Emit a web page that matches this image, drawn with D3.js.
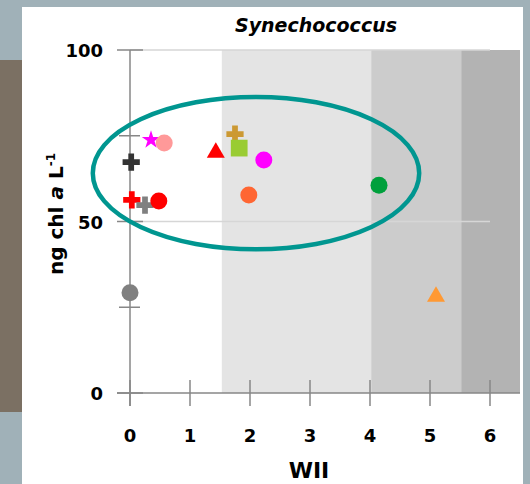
<!DOCTYPE html>
<html>
<head>
<meta charset="utf-8">
<script src="https://cdn.jsdelivr.net/npm/d3@7"></script>
<style>
  html, body { margin: 0; padding: 0; background: #a0b1b8; }
  svg { display: block; }
  text { font-family: "DejaVu Sans", sans-serif; font-weight: bold; fill: #000; }
</style>
</head>
<body>
<svg id="chart" width="530" height="484"></svg>
<script>
// ---- data ----
const wii = [0.35, 0.57, 0.02, 0.03, 0.25, 0.48, 1.43, 1.75, 1.82, 2.23, 1.98, 4.15, 5.10, 0.00];
const chl = [73.8, 72.9, 67.3, 56.3, 54.8, 56.0, 70.1, 75.5, 71.4, 67.9, 57.7, 60.6, 28.1, 29.2];
const markerShape = ["star", "circle", "cross", "cross", "cross", "circle", "triangle", "cross", "square", "circle", "circle", "circle", "triangle", "circle"];
const markerColor = ["#ff00ff", "#ff9999", "#333333", "#ff0000", "#808080", "#ff0000", "#ff0000", "#cc9933", "#99cc33", "#ff00ff", "#ff6633", "#00a03c", "#ff9933", "#808080"];
const bandStart = [1.53, 4.02, 5.52];
const bandEnd = [4.02, 5.52, 6.5];
const bandFill = ["#e4e4e4", "#cccccc", "#b3b3b3"];
const xTicks = [0, 1, 2, 3, 4, 5, 6];
const yMajorTicks = [0, 50, 100];
const yMinorTicks = [25, 75];
const ellipseCenter = [2.1, 64.1];
const ellipseRadii = [2.72, 22.2];

// ---- layout ----
const svg = d3.select("#chart");
svg.append("rect").attr("x", 0).attr("y", 0).attr("width", 530).attr("height", 484).attr("fill", "#a0b1b8");
svg.append("rect").attr("x", 0).attr("y", 60).attr("width", 22).attr("height", 352).attr("fill", "#7b7063");
svg.append("rect").attr("x", 22).attr("y", 7).attr("width", 501).attr("height", 477).attr("fill", "#ffffff");

const x = d3.scaleLinear().domain([0, 6.5]).range([130, 520]);
const y = d3.scaleLinear().domain([0, 100]).range([393, 50]);
const axisColor = "#878787";

// bands
svg.append("g").selectAll("rect").data(bandStart).join("rect")
  .attr("x", (d) => x(d))
  .attr("width", (d, i) => x(bandEnd[i]) - x(d))
  .attr("y", y(100))
  .attr("height", y(0) - y(100))
  .attr("fill", (d, i) => bandFill[i]);

// gridlines
svg.append("g").selectAll("line").data([50, 100]).join("line")
  .attr("x1", x(0)).attr("x2", x(6))
  .attr("y1", (d) => y(d)).attr("y2", (d) => y(d))
  .attr("stroke", "#d6d6d6").attr("stroke-width", 1.5);

// x axis line
svg.append("line").attr("x1", 117).attr("x2", x(6.5)).attr("y1", y(0)).attr("y2", y(0))
  .attr("stroke", axisColor).attr("stroke-width", 1.5);
// y axis line
svg.append("line").attr("x1", x(0)).attr("x2", x(0)).attr("y1", y(100)).attr("y2", y(0) + 13)
  .attr("stroke", axisColor).attr("stroke-width", 1.5);

// x ticks (crossing)
svg.append("g").selectAll("line").data(xTicks).join("line")
  .attr("x1", (d) => x(d)).attr("x2", (d) => x(d))
  .attr("y1", y(0) - 13).attr("y2", y(0) + 13)
  .attr("stroke", axisColor).attr("stroke-width", 1.5);
svg.append("g").selectAll("text").data(xTicks).join("text")
  .attr("x", (d) => x(d)).attr("y", 442)
  .attr("text-anchor", "middle").attr("font-size", 18)
  .text((d) => d);

// y ticks
svg.append("g").selectAll("line").data(yMajorTicks).join("line")
  .attr("x1", x(0) - 13).attr("x2", x(0) + 13)
  .attr("y1", (d) => y(d)).attr("y2", (d) => y(d))
  .attr("stroke", axisColor).attr("stroke-width", 1.5);
svg.append("g").selectAll("line").data(yMinorTicks).join("line")
  .attr("x1", x(0) - 11).attr("x2", x(0) + 10)
  .attr("y1", (d) => y(d)).attr("y2", (d) => y(d))
  .attr("stroke", axisColor).attr("stroke-width", 1.5);
svg.append("g").selectAll("text").data(yMajorTicks).join("text")
  .attr("x", 103).attr("y", (d) => y(d) + 7)
  .attr("text-anchor", "end").attr("font-size", 18)
  .text((d) => d);

// ellipse
svg.append("ellipse")
  .attr("cx", x(ellipseCenter[0])).attr("cy", y(ellipseCenter[1]))
  .attr("rx", x(ellipseRadii[0]) - x(0)).attr("ry", y(0) - y(ellipseRadii[1]))
  .attr("fill", "none").attr("stroke", "#009690").attr("stroke-width", 4.5);

// markers
const symType = { circle: d3.symbolCircle, cross: d3.symbolCross, triangle: d3.symbolTriangle, square: d3.symbolSquare, star: d3.symbolStar };
const symSize = { circle: 227, cross: 165, triangle: 140, square: 280, star: 105 };
svg.append("g").selectAll("path").data(wii).join("path")
  .attr("transform", (d, i) => `translate(${x(d)},${y(chl[i])})`)
  .attr("d", (d, i) => d3.symbol().type(symType[markerShape[i]]).size(symSize[markerShape[i]])())
  .attr("fill", (d, i) => markerColor[i]);

// title
svg.append("text").attr("x", 316).attr("y", 32).attr("text-anchor", "middle")
  .attr("font-size", 19).attr("font-style", "italic").text("Synechococcus");

// x title
svg.append("text").attr("x", 309).attr("y", 478).attr("text-anchor", "middle")
  .attr("font-size", 22).text("WII");

// y title
const yt = svg.append("text")
  .attr("transform", "translate(63,214) rotate(-90)")
  .attr("text-anchor", "middle").attr("font-size", 20);
yt.append("tspan").text("ng chl ");
yt.append("tspan").attr("font-style", "italic").text("a");
yt.append("tspan").text(" L");
yt.append("tspan").attr("font-size", 12).attr("dy", -8).text("-1");
</script>
</body>
</html>
